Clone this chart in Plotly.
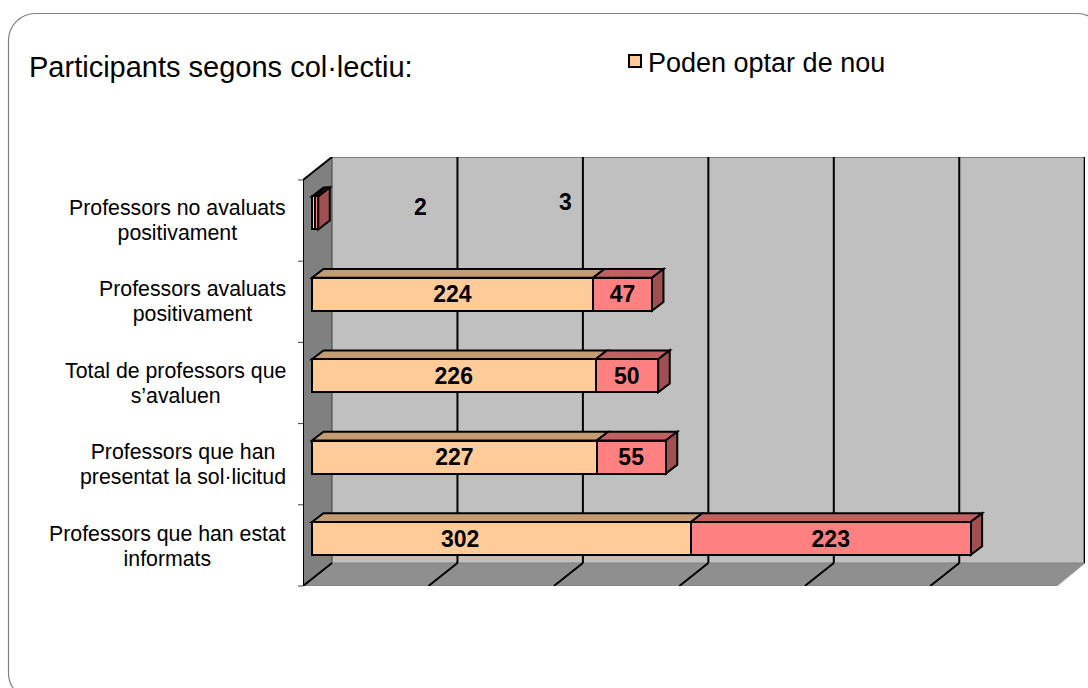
import plotly.graph_objects as go

categories = ["Professors que han estat<br>informats",
              "Professors que han<br>presentat la sol·licitud",
              "Total de professors que<br>s’avaluen",
              "Professors avaluats<br>positivament",
              "Professors no avaluats<br>positivament"]
series_a_name = "Poden optar de nou"
series_b_name = "No poden optar de nou"
series_a = [302, 227, 226, 224, 2]
series_b = [223, 55, 50, 47, 3]
labels_a = ["", "227", "226", "224", ""]
labels_b = ["223", "55", "50", "47", ""]
grid_values = [0, 100, 200, 300, 400, 500, 600]

W, H = 1088, 688
L, R, T, B = 303, 1085, 157, 586          # plot box in page pixels
X0 = 312; PX_PER_VAL = 1.2545             # value 0 at bar front
Y0 = 538.5; PX_PER_CAT = 81.4             # category 0 centre

def xv(px): return (px - X0) / PX_PER_VAL
def yv(py): return (Y0 - py) / PX_PER_CAT
def xp(px): return (px - L) / (R - L)
def yp(py): return (B - py) / (B - T)

def poly(pts):
    return "M " + " L ".join(f"{x:.3f},{y:.3f}" for x, y in pts) + " Z"

shapes = []
def add(pts, fill, line="rgba(0,0,0,0)", lw=0):
    shapes.append(dict(type="path", path=poly(pts), xref="x", yref="y", layer="below",
                       fillcolor=fill, line=dict(color=line, width=lw)))
def seg(a, b, color, lw):
    shapes.append(dict(type="line", xref="x", yref="y", layer="below",
                       x0=a[0], y0=a[1], x1=b[0], y1=b[1], line=dict(color=color, width=lw)))

# walls
WX, WT, WB = 332, 157, 563
add([(xv(WX), yv(WT)), (xv(R), yv(WT)), (xv(R), yv(WB)), (xv(WX), yv(WB))], "#C0C0C0")
add([(xv(L), yv(180)), (xv(WX), yv(WT)), (xv(WX), yv(WB)), (xv(L), yv(B))], "#808080")
add([(xv(L), yv(B)), (xv(WX), yv(WB)), (xv(R), yv(WB)), (xv(1057), yv(B))], "#8F8F8F")
seg((xv(WX), yv(WT)), (xv(R), yv(WT)), "#808080", 2)
seg((xv(WX), yv(WB)), (xv(R), yv(WB)), "#808080", 1)
seg((xv(L), yv(B)), (xv(1057), yv(B)), "#808080", 1)
seg((xv(R), yv(WB)), (xv(1057), yv(B)), "#A0A0A0", 1)
# grid on the back wall and floor
back_off = (WX - X0) / PX_PER_VAL
front_off = (L - X0) / PX_PER_VAL
for g in grid_values:
    if g:
        seg((g + back_off, yv(WT)), (g + back_off, yv(WB)), "#000000", 2)
        if g < 600:
            seg((g + back_off, yv(WB)), (g + front_off, yv(B)), "#000000", 2)
seg((xv(WX), yv(WT)), (xv(WX), yv(WB)), "#404040", 1)
seg((xv(L), yv(180)), (xv(L), yv(B)), "#000000", 2)
seg((xv(L), yv(180)), (xv(WX), yv(WT)), "#000000", 2)
seg((xv(L), yv(B)), (xv(WX), yv(WB)), "#000000", 2)

# bar depth faces
BAR_H = 33 / PX_PER_CAT
DX = 11.5 / PX_PER_VAL
DY = 8.8 / PX_PER_CAT
for i, (a, b) in enumerate(zip(series_a, series_b)):
    yb, yt = i - BAR_H / 2, i + BAR_H / 2
    add([(0, yt), (a, yt), (a + DX, yt + DY), (DX, yt + DY)], "#C49C72", "#000000", 2)
    add([(a, yt), (a + b, yt), (a + b + DX, yt + DY), (a + DX, yt + DY)], "#C06060", "#000000", 2)
    add([(a + b, yb), (a + b, yt), (a + b + DX, yt + DY), (a + b + DX, yb + DY)], "#A05050", "#000000", 2)

fig = go.Figure()
ys = list(range(len(categories)))
fig.add_bar(y=ys, x=series_a, orientation="h", name=series_a_name, text=labels_a,
            marker=dict(color="#FFCC99", line=dict(color="#000000", width=2)))
fig.add_bar(y=ys, x=series_b, orientation="h", name=series_b_name, text=labels_b, showlegend=False,
            marker=dict(color="#FF8080", line=dict(color="#000000", width=2)))
fig.update_traces(textposition="inside", insidetextanchor="middle", constraintext="none", textangle=0,
                  textfont=dict(family="Liberation Sans", size=23, color="#000000"),
                  texttemplate="<b>%{text}</b>", hoverinfo="skip")

ann = []
for i, c in enumerate(categories):
    styled = "<br>".join(f'<span style="font-size:21.3px">{ln}</span>' for ln in c.split("<br>"))
    ann.append(dict(text=styled, x=xp(288), xref="paper", y=yp(Y0 - i * PX_PER_CAT + 7.5), yref="paper",
                    xanchor="right", yanchor="middle", align="center", showarrow=False,
                    font=dict(size=19.5, color="#000000")))
# the labels that sit away from their bars
for txt, px, py in [(series_a[4], 420, 207), (series_b[4], 565, 202), (series_a[0], 459.5, 539)]:
    ann.append(dict(text=f"<b>{txt}</b>", x=xp(px), xref="paper", y=yp(py), yref="paper",
                    xanchor="center", yanchor="middle",
                    showarrow=False, font=dict(size=23, color="#000000")))
ann.append(dict(text="Participants segons col·lectiu:", x=xp(27), y=yp(67), xref="paper", yref="paper",
                xanchor="left", yanchor="middle", showarrow=False, font=dict(size=29, color="#000000")))

# front-plane ticks on the left wall
for k in range(6):
    shapes.append(dict(type="line", xref="paper", yref="paper", x0=xp(298), x1=xp(303),
                       y0=yp(B - k * 81.2), y1=yp(B - k * 81.2), line=dict(color="#404040", width=1)))
# rounded frame
r = 27
c = r * 0.45
l_, t_, r_, b_ = 8.5, 13.5, 1104, 700
frame = (f"M {xp(l_)},{yp(t_ + r)} C {xp(l_)},{yp(t_ + c)} {xp(l_ + c)},{yp(t_)} {xp(l_ + r)},{yp(t_)} "
         f"L {xp(r_ - r)},{yp(t_)} C {xp(r_ - c)},{yp(t_)} {xp(r_)},{yp(t_ + c)} {xp(r_)},{yp(t_ + r)} "
         f"L {xp(r_)},{yp(b_ - r)} C {xp(r_)},{yp(b_ - c)} {xp(r_ - c)},{yp(b_)} {xp(r_ - r)},{yp(b_)} "
         f"L {xp(l_ + r)},{yp(b_)} C {xp(l_ + c)},{yp(b_)} {xp(l_)},{yp(b_ - c)} {xp(l_)},{yp(b_ - r)} Z")
shapes.insert(0, dict(type="path", path=frame, xref="paper", yref="paper", layer="below",
                      line=dict(color="#808080", width=1.2), fillcolor="rgba(0,0,0,0)"))

fig.update_layout(
    width=W, height=H, barmode="stack", bargap=1 - BAR_H,
    margin=dict(l=L, r=W - R, t=T, b=H - B, autoexpand=False),
    paper_bgcolor="#FFFFFF", plot_bgcolor="rgba(0,0,0,0)",
    font=dict(family="Liberation Sans", color="#000000"),
    xaxis=dict(range=[xv(L), xv(R)], visible=False, showgrid=False, zeroline=False),
    yaxis=dict(range=[yv(B), yv(T)], visible=False, showgrid=False, zeroline=False),
    shapes=shapes, annotations=ann,
    legend=dict(x=xp(608), y=yp(37), xanchor="left", yanchor="top", font=dict(size=27),
                bgcolor="rgba(0,0,0,0)", traceorder="normal"),
    showlegend=True,
)
post = """document.body.style.margin='0';document.body.style.overflow='hidden';
var lp=document.querySelector('.legendpoints');
if(lp){lp.setAttribute('transform','translate(7,0) '+(lp.getAttribute('transform')||''));}"""
fig.write_html("out.html", config=dict(displayModeBar=False), post_script=post)
